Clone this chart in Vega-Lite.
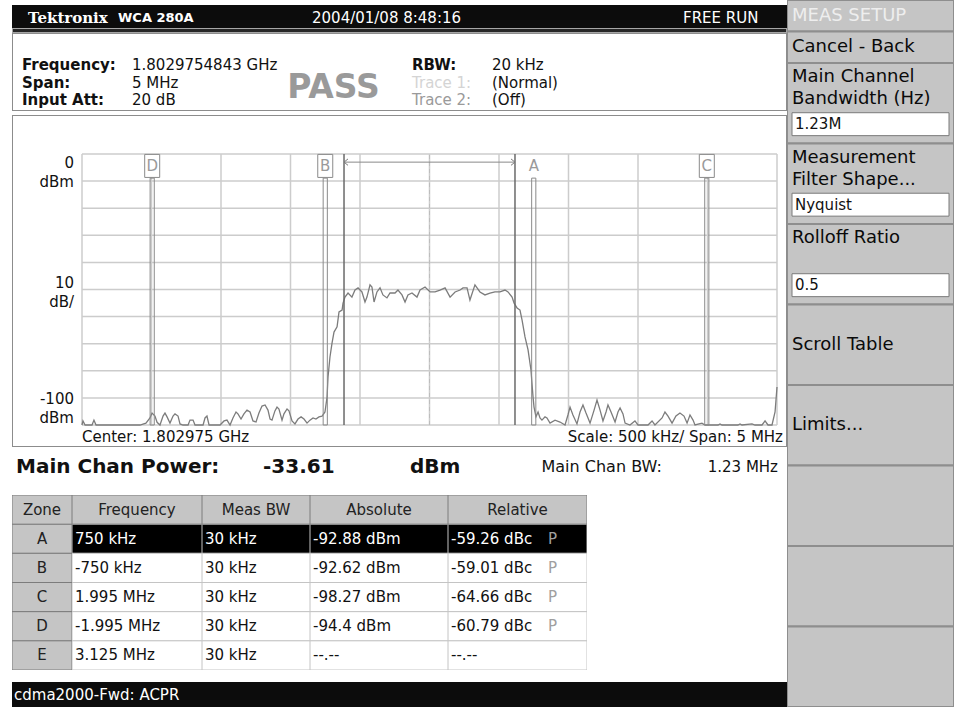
{
"$schema":"https://vega.github.io/schema/vega-lite/v6.json",
"padding":0,
"background":"#ffffff",
"spacing":0,
"config":{
 "view":{"stroke":null},
 "concat":{"spacing":0},
 "text":{"font":"DejaVu Sans","fontSize":15,"color":"#111111","baseline":"middle"},
 "scale":{"bandPaddingInner":0,"bandPaddingOuter":0,"rectBandPaddingInner":0}
},
"datasets":{
 "banner":[{"col":1,"text":"Tektronix"},{"col":2,"text":"WCA 280A"},{"col":3,"text":"2004/01/08 8:48:16"},{"col":4,"text":"FREE RUN"}],
 "settings":[
  {"side":1,"row":1,"name":"Frequency:","value":"1.8029754843 GHz","state":"on"},
  {"side":1,"row":2,"name":"Span:","value":"5 MHz","state":"on"},
  {"side":1,"row":3,"name":"Input Att:","value":"20 dB","state":"on"},
  {"side":2,"row":1,"name":"RBW:","value":"20 kHz","state":"on"},
  {"side":2,"row":2,"name":"Trace 1:","value":"(Normal)","state":"dim"},
  {"side":2,"row":3,"name":"Trace 2:","value":"(Off)","state":"off"}
 ],
 "verdict":[{"test":"Limit","result":"PASS"}],
 "divisions":[{"freq":-2.5,"level":0},{"freq":-2,"level":-10},{"freq":-1.5,"level":-20},{"freq":-1,"level":-30},{"freq":-0.5,"level":-40},{"freq":0,"level":-50},{"freq":0.5,"level":-60},{"freq":1,"level":-70},{"freq":1.5,"level":-80},{"freq":2,"level":-90},{"freq":2.5,"level":-100}],
 "channel":[{"lo":-0.615,"hi":0.615,"center":0}],
 "markers":[
  {"zone":"D","freq":-1.995,"lo":-2.01,"hi":-1.98,"boxed":true},
  {"zone":"B","freq":-0.75,"lo":-0.765,"hi":-0.735,"boxed":true},
  {"zone":"A","freq":0.75,"lo":0.735,"hi":0.765,"boxed":false},
  {"zone":"C","freq":1.995,"lo":1.98,"hi":2.01,"boxed":true}
 ],
 "refLabels":[{"level":0,"text":["0","dBm"]},{"level":-50,"text":["10","dB/"]},{"level":-100,"text":["-100","dBm"]}],
 "footer":[{"freq":-2.5,"text":"Center: 1.802975 GHz"},{"freq":2.5,"text":"Scale: 500 kHz/  Span: 5 MHz"}],
 "spectrum":[
  {"freq":-2.5,"level":-100},{"freq":-2.493,"level":-98.5},{"freq":-2.478,"level":-100},{"freq":-2.428,"level":-100},{"freq":-2.414,"level":-98.2},{"freq":-2.399,"level":-100},{"freq":-2.083,"level":-100},{"freq":-2.04,"level":-99.3},{"freq":-2.011,"level":-97.4},{"freq":-1.996,"level":-95.6},{"freq":-1.975,"level":-96.7},{"freq":-1.96,"level":-99},{"freq":-1.939,"level":-100},{"freq":-1.917,"level":-96.7},{"freq":-1.903,"level":-95.6},{"freq":-1.888,"level":-97},{"freq":-1.867,"level":-99.3},{"freq":-1.845,"level":-96.7},{"freq":-1.831,"level":-95.9},{"freq":-1.809,"level":-96.7},{"freq":-1.795,"level":-99.6},{"freq":-1.773,"level":-100},{"freq":-1.737,"level":-100},{"freq":-1.723,"level":-98.2},{"freq":-1.701,"level":-98.2},{"freq":-1.687,"level":-100},{"freq":-1.629,"level":-100},{"freq":-1.615,"level":-97.4},{"freq":-1.601,"level":-96.7},{"freq":-1.586,"level":-100},{"freq":-1.507,"level":-100},{"freq":-1.478,"level":-98.5},{"freq":-1.457,"level":-98.2},{"freq":-1.435,"level":-100},{"freq":-1.414,"level":-97.4},{"freq":-1.392,"level":-95.2},{"freq":-1.378,"level":-95.9},{"freq":-1.356,"level":-97.8},{"freq":-1.335,"level":-95.9},{"freq":-1.313,"level":-94.5},{"freq":-1.291,"level":-95.2},{"freq":-1.27,"level":-98.5},{"freq":-1.248,"level":-98.9},{"freq":-1.227,"level":-95.6},{"freq":-1.205,"level":-93},{"freq":-1.183,"level":-92.6},{"freq":-1.162,"level":-94.5},{"freq":-1.147,"level":-97.8},{"freq":-1.133,"level":-98.2},{"freq":-1.112,"level":-94.8},{"freq":-1.097,"level":-93.4},{"freq":-1.083,"level":-94.1},{"freq":-1.061,"level":-98.2},{"freq":-1.047,"level":-95.9},{"freq":-1.025,"level":-94.1},{"freq":-1.011,"level":-94.8},{"freq":-0.989,"level":-98.5},{"freq":-0.968,"level":-99.6},{"freq":-0.946,"level":-97.8},{"freq":-0.924,"level":-97},{"freq":-0.903,"level":-97.8},{"freq":-0.881,"level":-99.3},{"freq":-0.86,"level":-98.2},{"freq":-0.838,"level":-97.4},{"freq":-0.817,"level":-97.8},{"freq":-0.795,"level":-97},{"freq":-0.773,"level":-96.7},{"freq":-0.752,"level":-95.2},{"freq":-0.737,"level":-89.7},{"freq":-0.73,"level":-82.3},{"freq":-0.716,"level":-74.9},{"freq":-0.701,"level":-69.7},{"freq":-0.687,"level":-65.7},{"freq":-0.665,"level":-63.8},{"freq":-0.651,"level":-58.3},{"freq":-0.629,"level":-57.6},{"freq":-0.622,"level":-55},{"freq":-0.608,"level":-52.8},{"freq":-0.586,"level":-51.3},{"freq":-0.558,"level":-52.8},{"freq":-0.536,"level":-50.2},{"freq":-0.514,"level":-49.4},{"freq":-0.486,"level":-50.9},{"freq":-0.464,"level":-54.6},{"freq":-0.45,"level":-52.8},{"freq":-0.428,"level":-48.3},{"freq":-0.414,"level":-49.1},{"freq":-0.399,"level":-54.6},{"freq":-0.378,"level":-50.9},{"freq":-0.356,"level":-49.4},{"freq":-0.335,"level":-52},{"freq":-0.306,"level":-53.1},{"freq":-0.284,"level":-51.3},{"freq":-0.248,"level":-51.3},{"freq":-0.227,"level":-50.2},{"freq":-0.198,"level":-52},{"freq":-0.176,"level":-54.6},{"freq":-0.155,"level":-52},{"freq":-0.126,"level":-51.3},{"freq":-0.09,"level":-52.8},{"freq":-0.068,"level":-50.2},{"freq":-0.032,"level":-49.1},{"freq":0.004,"level":-50.9},{"freq":0.04,"level":-50.9},{"freq":0.076,"level":-50.2},{"freq":0.112,"level":-49.4},{"freq":0.148,"level":-52.8},{"freq":0.184,"level":-50.9},{"freq":0.22,"level":-50.2},{"freq":0.241,"level":-49.4},{"freq":0.27,"level":-49.4},{"freq":0.291,"level":-53.9},{"freq":0.327,"level":-48.3},{"freq":0.363,"level":-50.9},{"freq":0.399,"level":-52},{"freq":0.435,"level":-51.3},{"freq":0.471,"level":-50.9},{"freq":0.507,"level":-50.9},{"freq":0.543,"level":-50.2},{"freq":0.565,"level":-50.9},{"freq":0.594,"level":-52.8},{"freq":0.608,"level":-55},{"freq":0.63,"level":-56.8},{"freq":0.651,"level":-57.6},{"freq":0.666,"level":-61.3},{"freq":0.687,"level":-67.5},{"freq":0.709,"level":-72.3},{"freq":0.73,"level":-79.7},{"freq":0.737,"level":-84.5},{"freq":0.745,"level":-89.7},{"freq":0.752,"level":-93.4},{"freq":0.766,"level":-97},{"freq":0.781,"level":-95.2},{"freq":0.795,"level":-97.4},{"freq":0.809,"level":-98.2},{"freq":0.831,"level":-97},{"freq":0.845,"level":-97.4},{"freq":0.867,"level":-99.3},{"freq":0.903,"level":-98.2},{"freq":0.939,"level":-98.9},{"freq":0.975,"level":-100},{"freq":0.996,"level":-96.3},{"freq":1.011,"level":-93.4},{"freq":1.032,"level":-96.3},{"freq":1.061,"level":-99.6},{"freq":1.083,"level":-95.2},{"freq":1.104,"level":-92.6},{"freq":1.126,"level":-95.6},{"freq":1.155,"level":-99.3},{"freq":1.184,"level":-94.5},{"freq":1.205,"level":-90.8},{"freq":1.227,"level":-94.5},{"freq":1.248,"level":-98.5},{"freq":1.27,"level":-95.2},{"freq":1.284,"level":-92.6},{"freq":1.306,"level":-95.2},{"freq":1.335,"level":-98.9},{"freq":1.356,"level":-95.2},{"freq":1.371,"level":-93.7},{"freq":1.392,"level":-95.9},{"freq":1.407,"level":-99.3},{"freq":1.442,"level":-100},{"freq":1.478,"level":-98.5},{"freq":1.5,"level":-100},{"freq":1.572,"level":-100},{"freq":1.601,"level":-98.5},{"freq":1.622,"level":-100},{"freq":1.673,"level":-97.4},{"freq":1.694,"level":-95.2},{"freq":1.716,"level":-96.7},{"freq":1.745,"level":-99.3},{"freq":1.773,"level":-96.7},{"freq":1.802,"level":-95.6},{"freq":1.831,"level":-96.7},{"freq":1.853,"level":-99.3},{"freq":1.874,"level":-96.3},{"freq":1.896,"level":-98.2},{"freq":1.91,"level":-100},{"freq":1.96,"level":-99.3},{"freq":1.982,"level":-100},{"freq":2.076,"level":-100},{"freq":2.09,"level":-99.6},{"freq":2.104,"level":-100},{"freq":2.219,"level":-100},{"freq":2.234,"level":-99.6},{"freq":2.248,"level":-100},{"freq":2.32,"level":-99.6},{"freq":2.342,"level":-100},{"freq":2.392,"level":-100},{"freq":2.414,"level":-98.5},{"freq":2.435,"level":-100},{"freq":2.464,"level":-100},{"freq":2.486,"level":-95.2},{"freq":2.5,"level":-86}
 ],
 "summary":[{"kind":"power","name":"Main Chan Power:","reading":"-33.61","unit":"dBm"},{"kind":"bw","name":"Main Chan BW:","reading":"1.23 MHz","unit":"MHz"}],
 "columns":[{"column":"Zone"},{"column":"Frequency"},{"column":"Meas BW"},{"column":"Absolute"},{"column":"Relative"}],
 "acpr":[
  {"Zone":"A","Frequency":"750 kHz","Meas BW":"30 kHz","Absolute":"-92.88 dBm","Relative":"-59.26 dBc","Result":"P"},
  {"Zone":"B","Frequency":"-750 kHz","Meas BW":"30 kHz","Absolute":"-92.62 dBm","Relative":"-59.01 dBc","Result":"P"},
  {"Zone":"C","Frequency":"1.995 MHz","Meas BW":"30 kHz","Absolute":"-98.27 dBm","Relative":"-64.66 dBc","Result":"P"},
  {"Zone":"D","Frequency":"-1.995 MHz","Meas BW":"30 kHz","Absolute":"-94.4 dBm","Relative":"-60.79 dBc","Result":"P"},
  {"Zone":"E","Frequency":"3.125 MHz","Meas BW":"30 kHz","Absolute":"--.--","Relative":"--.--","Result":""}
 ],
 "status":[{"standard":"cdma2000-Fwd","measurement":"ACPR","mode":"cdma2000-Fwd: ACPR"}],
 "menuHead":[{"menu":"MEAS SETUP","item":"MEAS SETUP"},{"menu":"MEAS SETUP","item":"Cancel - Back"}],
 "menu":[
  {"menu":"MEAS SETUP","button":1,"label":["Main Channel","Bandwidth (Hz)"],"setting":"1.23M"},
  {"menu":"MEAS SETUP","button":2,"label":["Measurement","Filter Shape..."],"setting":"Nyquist"},
  {"menu":"MEAS SETUP","button":3,"label":["Rolloff Ratio"],"setting":"0.5"},
  {"menu":"MEAS SETUP","button":4,"label":"Scroll Table"},
  {"menu":"MEAS SETUP","button":5,"label":"Limits..."},
  {"menu":"MEAS SETUP","button":6,"label":""},
  {"menu":"MEAS SETUP","button":7,"label":""},
  {"menu":"MEAS SETUP","button":8,"label":""}
 ]
},
"hconcat":[
 {"width":12,"height":707,"data":{"values":[]},"mark":"point","encoding":{}},
 {"vconcat":[
  {"width":775,"height":5,"data":{"values":[]},"mark":"point","encoding":{}},
  {"width":775,"height":23,"view":{"fill":"#0c0c0c"},"data":{"name":"banner"},
   "encoding":{"x":{"field":"col","type":"quantitative","axis":null,"scale":{"domain":[1,2,3,4],"range":[16,106,300,671],"zero":false,"nice":false}}},
   "layer":[
    {"transform":[{"filter":"datum.col === 1"}],"mark":{"type":"text","align":"left","font":"DejaVu Serif","fontWeight":"bold","fontSize":15,"color":"#ffffff","dy":1.5,"clip":true},"encoding":{"text":{"field":"text"}}},
    {"transform":[{"filter":"datum.col === 2"}],"mark":{"type":"text","align":"left","fontWeight":"bold","fontSize":13,"color":"#ffffff","dy":1.5,"clip":true},"encoding":{"text":{"field":"text"}}},
    {"transform":[{"filter":"datum.col >= 3"}],"mark":{"type":"text","align":"left","fontSize":15,"color":"#ffffff","dy":1.5,"clip":true},"encoding":{"text":{"field":"text"}}}
   ]},
  {"width":775,"height":5,"data":{"values":[{"bar":"sweep"}]},"mark":{"type":"rect","fill":"#262626","stroke":"#a6a6a6","strokeWidth":2,"clip":true},"encoding":{}},
  {"width":775,"height":78,"view":{"fill":"#ffffff"},
   "layer":[
    {"data":{"values":[{"frame":"settings"}]},"mark":{"type":"rect","fillOpacity":0,"stroke":"#8c8c8c","strokeWidth":2,"clip":true},"encoding":{}},
    {"data":{"name":"settings"},"transform":[{"filter":"datum.state === 'on'"}],"mark":{"type":"text","align":"left","fontWeight":"bold","fontSize":15,"clip":true},
     "encoding":{"x":{"field":"side","type":"quantitative","axis":null,"scale":{"domain":[1,2],"range":[10,400],"zero":false,"nice":false}},"y":{"field":"row","type":"quantitative","axis":null,"scale":{"domain":[1,3],"range":[32,67],"zero":false,"nice":false}},"text":{"field":"name"}}},
    {"data":{"name":"settings"},"transform":[{"filter":"datum.state !== 'on'"}],"mark":{"type":"text","align":"left","fontSize":15,"clip":true},
     "encoding":{"x":{"field":"side","type":"quantitative","axis":null},"y":{"field":"row","type":"quantitative","axis":null},"text":{"field":"name"},"color":{"condition":{"test":"datum.state === 'dim'","value":"#d4d4d4"},"value":"#9a9a9a"}}},
    {"data":{"name":"settings"},"transform":[{"filter":"datum.side === 1"}],"mark":{"type":"text","align":"left","fontSize":15,"dx":110,"clip":true},
     "encoding":{"x":{"field":"side","type":"quantitative","axis":null},"y":{"field":"row","type":"quantitative","axis":null},"text":{"field":"value"}}},
    {"data":{"name":"settings"},"transform":[{"filter":"datum.side === 2"}],"mark":{"type":"text","align":"left","fontSize":15,"dx":80,"clip":true},
     "encoding":{"x":{"field":"side","type":"quantitative","axis":null},"y":{"field":"row","type":"quantitative","axis":null},"text":{"field":"value"}}},
    {"data":{"name":"verdict"},"mark":{"type":"text","fontWeight":"bold","fontSize":33,"color":"#9a9a9a","dx":-66,"dy":16,"clip":true},"encoding":{"text":{"field":"result"}}}
   ]},
  {"width":775,"height":4,"data":{"values":[]},"mark":"point","encoding":{}},
  {"width":775,"height":332,"view":{"fill":"#ffffff"},
   "layer":[
    {"data":{"name":"divisions"},"mark":{"type":"rule","color":"#cccccc","strokeWidth":1.5,"clip":true},
     "encoding":{"x":{"field":"freq","type":"quantitative","axis":null,"scale":{"domain":[-2.5,2.5],"range":[70,765],"zero":false,"nice":false}},"y":{"datum":-100,"type":"quantitative","axis":null,"scale":{"domain":[-100,0],"range":[310,39],"zero":false,"nice":false}},"y2":{"datum":0}}},
    {"data":{"name":"divisions"},"mark":{"type":"rule","color":"#cccccc","strokeWidth":1.5,"clip":true},
     "encoding":{"y":{"field":"level","type":"quantitative","axis":null},"x":{"datum":-2.5,"type":"quantitative","axis":null},"x2":{"datum":2.5}}},
    {"data":{"name":"channel"},"mark":{"type":"rule","color":"#bdbdbd","strokeWidth":1,"strokeDash":[4,3],"clip":true},
     "encoding":{"x":{"field":"center","type":"quantitative","axis":null},"y":{"datum":-100,"type":"quantitative","axis":null},"y2":{"datum":0}}},
    {"data":{"name":"spectrum"},"mark":{"type":"line","color":"#7c7c7c","strokeWidth":1.3,"clip":true},
     "encoding":{"x":{"field":"freq","type":"quantitative","axis":null},"y":{"field":"level","type":"quantitative","axis":null}}},
    {"data":{"name":"markers"},"mark":{"type":"rect","fillOpacity":0,"fill":"#ffffff","stroke":"#8a8a8a","strokeWidth":1,"clip":true},
     "encoding":{"x":{"field":"lo","type":"quantitative","axis":null},"x2":{"field":"hi"},"y":{"datum":-100,"type":"quantitative","axis":null},"y2":{"datum":-8.9}}},
    {"data":{"name":"channel"},"mark":{"type":"rule","color":"#6a6a6a","strokeWidth":1.5,"clip":true},
     "encoding":{"x":{"field":"lo","type":"quantitative","axis":null},"y":{"datum":-100,"type":"quantitative","axis":null},"y2":{"datum":0}}},
    {"data":{"name":"channel"},"mark":{"type":"rule","color":"#6a6a6a","strokeWidth":1.5,"clip":true},
     "encoding":{"x":{"field":"hi","type":"quantitative","axis":null},"y":{"datum":-100,"type":"quantitative","axis":null},"y2":{"datum":0}}},
    {"data":{"name":"channel"},"mark":{"type":"rule","color":"#8a8a8a","strokeWidth":1,"clip":true},
     "encoding":{"x":{"field":"lo","type":"quantitative","axis":null},"x2":{"field":"hi"},"y":{"datum":-3,"type":"quantitative","axis":null}}},
    {"data":{"name":"channel"},"mark":{"type":"point","shape":"M1,-0.8L0,0L1,0.8","size":64,"filled":false,"stroke":"#7a7a7a","strokeWidth":1,"opacity":1,"clip":true},
     "encoding":{"x":{"field":"lo","type":"quantitative","axis":null},"y":{"datum":-3,"type":"quantitative","axis":null}}},
    {"data":{"name":"channel"},"mark":{"type":"point","shape":"M-1,-0.8L0,0L-1,0.8","size":64,"filled":false,"stroke":"#7a7a7a","strokeWidth":1,"opacity":1,"clip":true},
     "encoding":{"x":{"field":"hi","type":"quantitative","axis":null},"y":{"datum":-3,"type":"quantitative","axis":null}}},
    {"data":{"name":"markers"},"transform":[{"filter":"datum.boxed"}],"mark":{"type":"point","shape":"M-0.5,-0.767H0.5V0.767H-0.5Z","size":900,"filled":true,"fill":"#ffffff","stroke":"#8a8a8a","strokeWidth":1,"opacity":1,"clip":true},
     "encoding":{"x":{"field":"freq","type":"quantitative","axis":null},"y":{"datum":-4.4,"type":"quantitative","axis":null}}},
    {"data":{"name":"markers"},"mark":{"type":"text","fontSize":15,"color":"#9a9a9a","clip":true},
     "encoding":{"x":{"field":"freq","type":"quantitative","axis":null},"y":{"datum":-4.4,"type":"quantitative","axis":null},"text":{"field":"zone"}}},
    {"data":{"name":"refLabels"},"transform":[{"filter":"datum.level === 0"}],"mark":{"type":"text","align":"right","baseline":"middle","dx":-8,"dy":9,"lineHeight":18.5,"fontSize":15,"clip":true},
     "encoding":{"x":{"datum":-2.5,"type":"quantitative","axis":null},"y":{"field":"level","type":"quantitative","axis":null},"text":{"field":"text"}}},
    {"data":{"name":"refLabels"},"transform":[{"filter":"datum.level === -50"}],"mark":{"type":"text","align":"right","baseline":"middle","dx":-8,"dy":-6.5,"lineHeight":18.5,"fontSize":15,"clip":true},
     "encoding":{"x":{"datum":-2.5,"type":"quantitative","axis":null},"y":{"field":"level","type":"quantitative","axis":null},"text":{"field":"text"}}},
    {"data":{"name":"refLabels"},"transform":[{"filter":"datum.level === -100"}],"mark":{"type":"text","align":"right","baseline":"middle","dx":-8,"dy":-26,"lineHeight":18.5,"fontSize":15,"clip":true},
     "encoding":{"x":{"datum":-2.5,"type":"quantitative","axis":null},"y":{"field":"level","type":"quantitative","axis":null},"text":{"field":"text"}}},
    {"data":{"name":"footer"},"transform":[{"filter":"datum.freq < 0"}],"mark":{"type":"text","align":"left","dy":12,"fontSize":15,"clip":true},
     "encoding":{"x":{"field":"freq","type":"quantitative","axis":null},"y":{"datum":-100,"type":"quantitative","axis":null},"text":{"field":"text"}}},
    {"data":{"name":"footer"},"transform":[{"filter":"datum.freq > 0"}],"mark":{"type":"text","align":"right","dx":6,"dy":12,"fontSize":15,"clip":true},
     "encoding":{"x":{"field":"freq","type":"quantitative","axis":null},"y":{"datum":-100,"type":"quantitative","axis":null},"text":{"field":"text"}}},
    {"data":{"values":[{"frame":"display"}]},"mark":{"type":"rect","fillOpacity":0,"stroke":"#8c8c8c","strokeWidth":2,"clip":true},"encoding":{}}
   ]},
  {"width":775,"height":48,"data":{"name":"summary"},
   "encoding":{"x":{"field":"name","type":"nominal","axis":null,"scale":{"type":"band","domain":["Main Chan Power:","Main Chan BW:"],"paddingInner":0,"paddingOuter":0},"bandPosition":0}},
   "layer":[
    {"transform":[{"filter":"datum.kind === 'power'"}],"mark":{"type":"text","align":"left","fontWeight":"bold","fontSize":20,"dx":4,"dy":-4,"clip":true},"encoding":{"text":{"field":"name"}}},
    {"transform":[{"filter":"datum.kind === 'power'"}],"mark":{"type":"text","align":"left","fontWeight":"bold","fontSize":20,"dx":251,"dy":-4,"clip":true},"encoding":{"text":{"field":"reading"}}},
    {"transform":[{"filter":"datum.kind === 'power'"}],"mark":{"type":"text","align":"left","fontWeight":"bold","fontSize":20,"dx":398,"dy":-4,"clip":true},"encoding":{"text":{"field":"unit"}}},
    {"transform":[{"filter":"datum.kind === 'bw'"}],"mark":{"type":"text","align":"left","fontSize":16,"dx":142,"dy":-4,"clip":true},"encoding":{"text":{"field":"name"}}},
    {"transform":[{"filter":"datum.kind === 'bw'"}],"mark":{"type":"text","align":"right","fontSize":15,"dx":-9,"dy":-4,"clip":true},"encoding":{"x":{"field":"name","type":"nominal","axis":null,"bandPosition":1},"text":{"field":"reading"}}}
   ]},
  {"hconcat":[
   {"width":60,"height":175,"layer":[
    {"data":{"name":"acpr"},"transform":[{"fold":["Zone"],"as":["column","reading"]}],"mark":{"type":"rect","fill":"#c5c5c5","stroke":"#7c7c7c","strokeWidth":1,"clip":true},
     "encoding":{"x":{"field":"column","type":"nominal","axis":null,"scale":{"type":"band","paddingInner":0,"paddingOuter":0}},"y":{"field":"Zone","type":"nominal","axis":null,"scale":{"type":"band","domain":["Zone","A","B","C","D","E"],"paddingInner":0,"paddingOuter":0}}}},
    {"data":{"name":"acpr"},"transform":[{"fold":["Zone"],"as":["column","reading"]}],"mark":{"type":"text","fontSize":15,"color":"#222222","clip":true},
     "encoding":{"x":{"field":"column","type":"nominal","axis":null},"y":{"field":"Zone","type":"nominal","axis":null},"text":{"field":"reading"}}},
    {"data":{"name":"columns"},"transform":[{"filter":"datum.column === 'Zone'"}],"mark":{"type":"rect","fill":"#c5c5c5","stroke":"#7c7c7c","strokeWidth":1,"clip":true},
     "encoding":{"x":{"field":"column","type":"nominal","axis":null},"y":{"datum":"Zone","type":"nominal","axis":null}}},
    {"data":{"name":"columns"},"transform":[{"filter":"datum.column === 'Zone'"}],"mark":{"type":"text","fontSize":15,"color":"#222222","clip":true},
     "encoding":{"x":{"field":"column","type":"nominal","axis":null},"y":{"datum":"Zone","type":"nominal","axis":null},"text":{"field":"column"}}}
   ]},
   {"width":130,"height":175,"layer":[
    {"data":{"name":"acpr"},"transform":[{"fold":["Frequency"],"as":["column","reading"]}],"mark":{"type":"rect","stroke":"#c4c4c4","strokeWidth":1,"clip":true},
     "encoding":{"x":{"field":"column","type":"nominal","axis":null,"scale":{"type":"band","paddingInner":0,"paddingOuter":0}},"y":{"field":"Zone","type":"nominal","axis":null,"scale":{"type":"band","domain":["Zone","A","B","C","D","E"],"paddingInner":0,"paddingOuter":0}},"fill":{"condition":{"test":"datum.Zone === 'A'","value":"#000000"},"value":"#ffffff"}}},
    {"data":{"name":"acpr"},"transform":[{"fold":["Frequency"],"as":["column","reading"]}],"mark":{"type":"text","align":"left","dx":3,"fontSize":15,"clip":true},
     "encoding":{"x":{"field":"column","type":"nominal","axis":null,"bandPosition":0},"y":{"field":"Zone","type":"nominal","axis":null},"text":{"field":"reading"},"color":{"condition":{"test":"datum.Zone === 'A'","value":"#ffffff"},"value":"#111111"}}},
    {"data":{"name":"columns"},"transform":[{"filter":"datum.column === 'Frequency'"}],"mark":{"type":"rect","fill":"#c5c5c5","stroke":"#7c7c7c","strokeWidth":1,"clip":true},
     "encoding":{"x":{"field":"column","type":"nominal","axis":null},"y":{"datum":"Zone","type":"nominal","axis":null}}},
    {"data":{"name":"columns"},"transform":[{"filter":"datum.column === 'Frequency'"}],"mark":{"type":"text","fontSize":15,"color":"#222222","clip":true},
     "encoding":{"x":{"field":"column","type":"nominal","axis":null},"y":{"datum":"Zone","type":"nominal","axis":null},"text":{"field":"column"}}}
   ]},
   {"width":108,"height":175,"layer":[
    {"data":{"name":"acpr"},"transform":[{"fold":["Meas BW"],"as":["column","reading"]}],"mark":{"type":"rect","stroke":"#c4c4c4","strokeWidth":1,"clip":true},
     "encoding":{"x":{"field":"column","type":"nominal","axis":null,"scale":{"type":"band","paddingInner":0,"paddingOuter":0}},"y":{"field":"Zone","type":"nominal","axis":null,"scale":{"type":"band","domain":["Zone","A","B","C","D","E"],"paddingInner":0,"paddingOuter":0}},"fill":{"condition":{"test":"datum.Zone === 'A'","value":"#000000"},"value":"#ffffff"}}},
    {"data":{"name":"acpr"},"transform":[{"fold":["Meas BW"],"as":["column","reading"]}],"mark":{"type":"text","align":"left","dx":3,"fontSize":15,"clip":true},
     "encoding":{"x":{"field":"column","type":"nominal","axis":null,"bandPosition":0},"y":{"field":"Zone","type":"nominal","axis":null},"text":{"field":"reading"},"color":{"condition":{"test":"datum.Zone === 'A'","value":"#ffffff"},"value":"#111111"}}},
    {"data":{"name":"columns"},"transform":[{"filter":"datum.column === 'Meas BW'"}],"mark":{"type":"rect","fill":"#c5c5c5","stroke":"#7c7c7c","strokeWidth":1,"clip":true},
     "encoding":{"x":{"field":"column","type":"nominal","axis":null},"y":{"datum":"Zone","type":"nominal","axis":null}}},
    {"data":{"name":"columns"},"transform":[{"filter":"datum.column === 'Meas BW'"}],"mark":{"type":"text","fontSize":15,"color":"#222222","clip":true},
     "encoding":{"x":{"field":"column","type":"nominal","axis":null},"y":{"datum":"Zone","type":"nominal","axis":null},"text":{"field":"column"}}}
   ]},
   {"width":138,"height":175,"layer":[
    {"data":{"name":"acpr"},"transform":[{"fold":["Absolute"],"as":["column","reading"]}],"mark":{"type":"rect","stroke":"#c4c4c4","strokeWidth":1,"clip":true},
     "encoding":{"x":{"field":"column","type":"nominal","axis":null,"scale":{"type":"band","paddingInner":0,"paddingOuter":0}},"y":{"field":"Zone","type":"nominal","axis":null,"scale":{"type":"band","domain":["Zone","A","B","C","D","E"],"paddingInner":0,"paddingOuter":0}},"fill":{"condition":{"test":"datum.Zone === 'A'","value":"#000000"},"value":"#ffffff"}}},
    {"data":{"name":"acpr"},"transform":[{"fold":["Absolute"],"as":["column","reading"]}],"mark":{"type":"text","align":"left","dx":3,"fontSize":15,"clip":true},
     "encoding":{"x":{"field":"column","type":"nominal","axis":null,"bandPosition":0},"y":{"field":"Zone","type":"nominal","axis":null},"text":{"field":"reading"},"color":{"condition":{"test":"datum.Zone === 'A'","value":"#ffffff"},"value":"#111111"}}},
    {"data":{"name":"columns"},"transform":[{"filter":"datum.column === 'Absolute'"}],"mark":{"type":"rect","fill":"#c5c5c5","stroke":"#7c7c7c","strokeWidth":1,"clip":true},
     "encoding":{"x":{"field":"column","type":"nominal","axis":null},"y":{"datum":"Zone","type":"nominal","axis":null}}},
    {"data":{"name":"columns"},"transform":[{"filter":"datum.column === 'Absolute'"}],"mark":{"type":"text","fontSize":15,"color":"#222222","clip":true},
     "encoding":{"x":{"field":"column","type":"nominal","axis":null},"y":{"datum":"Zone","type":"nominal","axis":null},"text":{"field":"column"}}}
   ]},
   {"width":139,"height":175,"layer":[
    {"data":{"name":"acpr"},"transform":[{"fold":["Relative"],"as":["column","reading"]}],"mark":{"type":"rect","stroke":"#c4c4c4","strokeWidth":1,"clip":true},
     "encoding":{"x":{"field":"column","type":"nominal","axis":null,"scale":{"type":"band","paddingInner":0,"paddingOuter":0}},"y":{"field":"Zone","type":"nominal","axis":null,"scale":{"type":"band","domain":["Zone","A","B","C","D","E"],"paddingInner":0,"paddingOuter":0}},"fill":{"condition":{"test":"datum.Zone === 'A'","value":"#000000"},"value":"#ffffff"}}},
    {"data":{"name":"acpr"},"transform":[{"fold":["Relative"],"as":["column","reading"]}],"mark":{"type":"text","align":"left","dx":3,"fontSize":15,"clip":true},
     "encoding":{"x":{"field":"column","type":"nominal","axis":null,"bandPosition":0},"y":{"field":"Zone","type":"nominal","axis":null},"text":{"field":"reading"},"color":{"condition":{"test":"datum.Zone === 'A'","value":"#ffffff"},"value":"#111111"}}},
    {"data":{"name":"acpr"},"transform":[{"fold":["Relative"],"as":["column","reading"]}],"mark":{"type":"text","align":"left","dx":100,"fontSize":15,"color":"#a0a0a0","clip":true},
     "encoding":{"x":{"field":"column","type":"nominal","axis":null,"bandPosition":0},"y":{"field":"Zone","type":"nominal","axis":null},"text":{"field":"Result"}}},
    {"data":{"name":"columns"},"transform":[{"filter":"datum.column === 'Relative'"}],"mark":{"type":"rect","fill":"#c5c5c5","stroke":"#7c7c7c","strokeWidth":1,"clip":true},
     "encoding":{"x":{"field":"column","type":"nominal","axis":null},"y":{"datum":"Zone","type":"nominal","axis":null}}},
    {"data":{"name":"columns"},"transform":[{"filter":"datum.column === 'Relative'"}],"mark":{"type":"text","fontSize":15,"color":"#222222","clip":true},
     "encoding":{"x":{"field":"column","type":"nominal","axis":null},"y":{"datum":"Zone","type":"nominal","axis":null},"text":{"field":"column"}}}
   ]},
   {"width":200,"height":175,"data":{"values":[]},"mark":"point","encoding":{}}
  ],"spacing":0,"bounds":"flush"},
  {"width":775,"height":12,"data":{"values":[]},"mark":"point","encoding":{}},
  {"width":775,"height":25,"view":{"fill":"#0c0c0c"},"data":{"name":"status"},
   "mark":{"type":"text","align":"left","dx":2,"color":"#ffffff","fontSize":15,"clip":true},
   "encoding":{"x":{"field":"mode","type":"nominal","axis":null,"scale":{"type":"band","paddingInner":0,"paddingOuter":0},"bandPosition":0},"text":{"field":"mode"}}}
 ],"spacing":0},
 {"vconcat":[
  {"width":167,"height":63,"data":{"name":"menuHead"},
   "encoding":{"y":{"field":"item","type":"nominal","axis":null,"scale":{"type":"band","domain":["MEAS SETUP","Cancel - Back"],"paddingInner":0,"paddingOuter":0}}},
   "layer":[
    {"mark":{"type":"rect","fill":"#c5c5c5","stroke":"#8e8e8e","strokeWidth":2,"clip":true}},
    {"mark":{"type":"text","align":"left","dx":5,"fontSize":18,"clip":true},
     "encoding":{"x":{"field":"menu","type":"nominal","axis":null,"scale":{"type":"band","paddingInner":0,"paddingOuter":0},"bandPosition":0},"text":{"field":"item"},"color":{"condition":{"test":"datum.item === 'MEAS SETUP'","value":"#eeeeee"},"value":"#0a0a0a"}}}
   ]},
  {"width":167,"height":644,"data":{"name":"menu"},
   "encoding":{"y":{"field":"button","type":"ordinal","axis":null,"scale":{"type":"band","paddingInner":0,"paddingOuter":0}}},
   "layer":[
    {"mark":{"type":"rect","fill":"#c5c5c5","stroke":"#8e8e8e","strokeWidth":2,"clip":true}},
    {"transform":[{"filter":"datum.setting"}],"mark":{"type":"text","align":"left","baseline":"top","dx":5,"dy":5,"fontSize":18,"lineHeight":22,"color":"#0a0a0a","clip":true},
     "encoding":{"x":{"field":"menu","type":"nominal","axis":null,"scale":{"type":"band","paddingInner":0,"paddingOuter":0},"bandPosition":0},"y":{"field":"button","type":"ordinal","axis":null,"bandPosition":0},"text":{"field":"label"}}},
    {"transform":[{"filter":"!datum.setting"}],"mark":{"type":"text","align":"left","dx":5,"fontSize":18,"color":"#0a0a0a","clip":true},
     "encoding":{"x":{"field":"menu","type":"nominal","axis":null,"bandPosition":0},"text":{"field":"label"}}},
    {"transform":[{"filter":"datum.setting"}],"mark":{"type":"point","shape":"M-1,-0.146H1V0.146H-1Z","size":24649,"filled":true,"fill":"#ffffff","stroke":"#7a7a7a","strokeWidth":1,"opacity":1,"clip":true},
     "encoding":{"y":{"field":"button","type":"ordinal","axis":null,"bandPosition":0.76}}},
    {"transform":[{"filter":"datum.setting"}],"mark":{"type":"text","align":"left","dx":8,"fontSize":15,"clip":true},
     "encoding":{"x":{"field":"menu","type":"nominal","axis":null,"bandPosition":0},"y":{"field":"button","type":"ordinal","axis":null,"bandPosition":0.76},"text":{"field":"setting"}}}
   ]}
 ],"spacing":0}
]
}
